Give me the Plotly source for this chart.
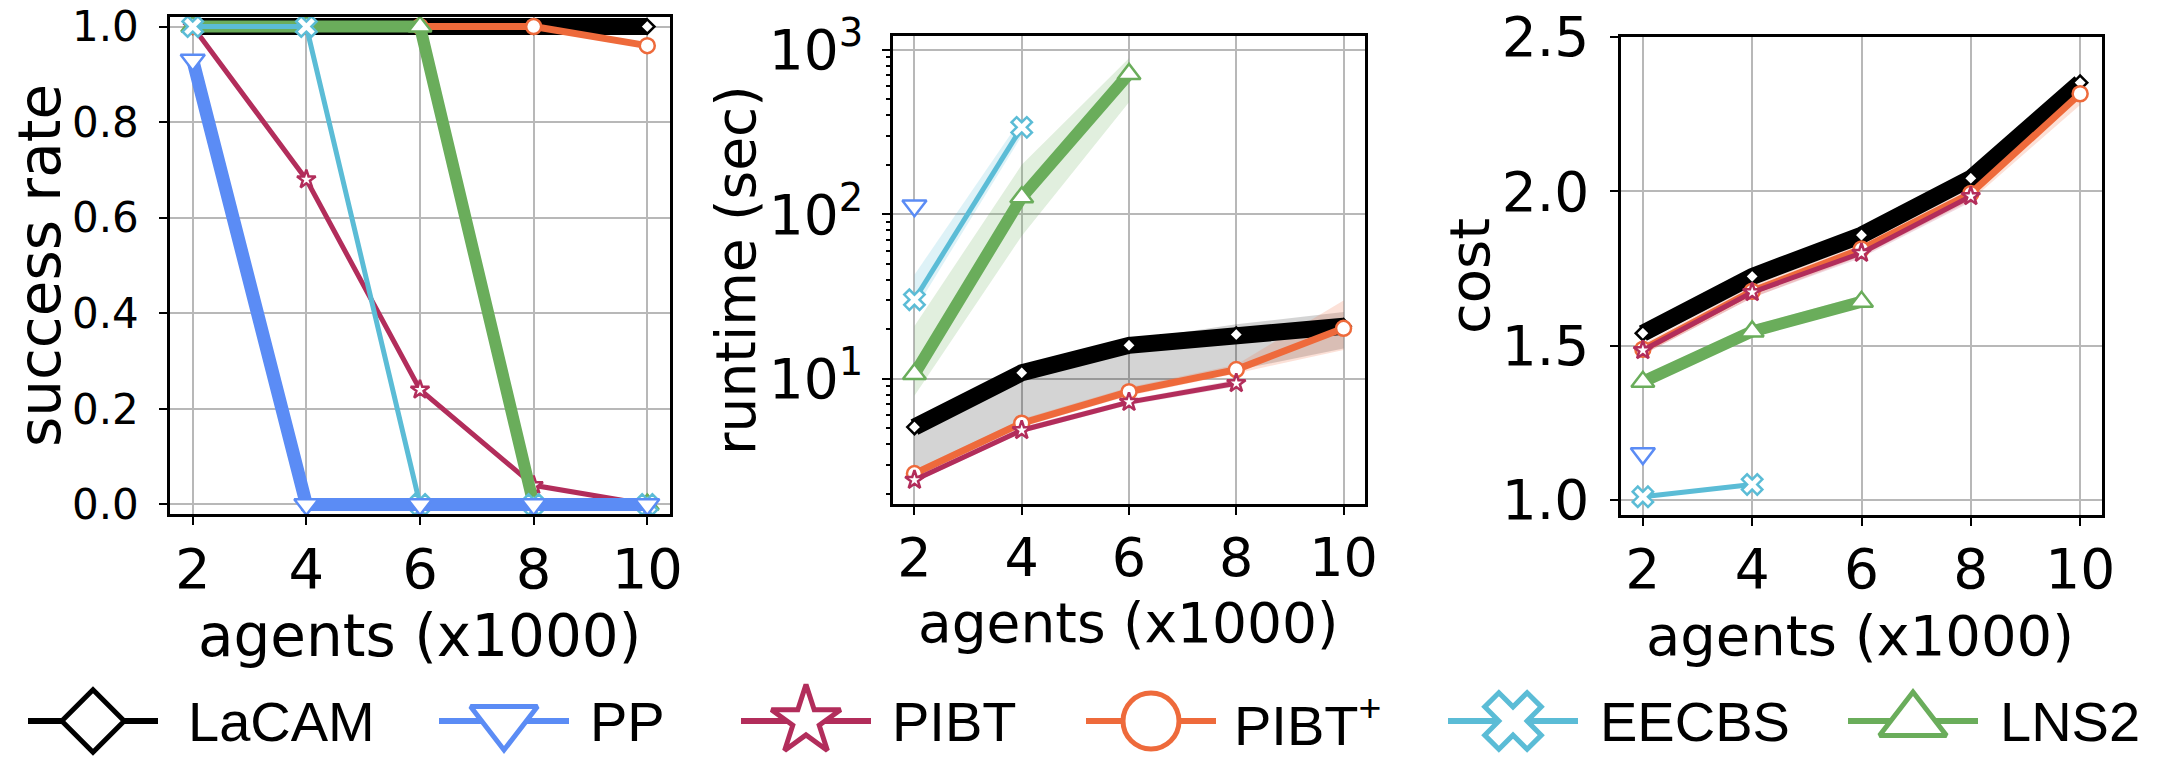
import plotly.graph_objects as go

W, H = 2167, 759

# ---------------- data ----------------
AGENTS = [2, 4, 6, 8, 10]
X_TICKS = [2, 4, 6, 8, 10]
METHODS = ["LaCAM", "PP", "PIBT", "PIBT+", "EECBS", "LNS2"]
LEGEND_LABELS = ["LaCAM", "PP", "PIBT", "PIBT<sup>+</sup>", "EECBS", "LNS2"]

# success rate
SR = {
    "LaCAM": [1.0, 1.0, 1.0, 1.0, 1.0],
    "PP":    [0.93, 0.0, 0.0, 0.0, 0.0],
    "PIBT":  [1.0, 0.68, 0.24, 0.04, 0.0],
    "PIBT+": [1.0, 1.0, 1.0, 1.0, 0.96],
    "EECBS": [1.0, 1.0, 0.0, 0.0, 0.0],
    "LNS2":  [1.0, 1.0, 1.0, 0.0, 0.0],
}

# runtime (sec); None = no solved instance
RT = {
    "LaCAM": [5.1, 10.9, 16.0, 18.6, 20.9],
    "PP":    [113, None, None, None, None],
    "PIBT":  [2.43, 4.88, 7.23, 9.42, None],
    "PIBT+": [2.66, 5.38, 8.37, 11.4, 20.3],
    "EECBS": [30.3, 338, None, None, None],
    "LNS2":  [10.7, 127, 714, None, None],
}
RT_LO = {
    "LaCAM": [2.7, 5.3, 8.4, 11.3, 15.3],
    "PP":    [110, None, None, None, None],
    "PIBT":  [2.35, 4.7, 6.95, 9.0, None],
    "PIBT+": [2.55, 5.1, 7.9, 10.8, 15.0],
    "EECBS": [26.0, 300, None, None, None],
    "LNS2":  [7.9, 74, 480, None, None],
}
RT_HI = {
    "LaCAM": [5.6, 11.6, 17.2, 21.5, 25.5],
    "PP":    [116, None, None, None, None],
    "PIBT":  [2.52, 5.1, 7.5, 9.9, None],
    "PIBT+": [2.8, 5.7, 8.9, 12.2, 30.0],
    "EECBS": [43.0, 385, None, None, None],
    "LNS2":  [21.0, 200, 890, None, None],
}

# cost
CO = {
    "LaCAM": [1.54, 1.724, 1.858, 2.042, 2.352],
    "PP":    [1.15, None, None, None, None],
    "PIBT":  [1.485, 1.673, 1.80, 1.984, None],
    "PIBT+": [1.488, 1.676, 1.813, 1.993, 2.316],
    "EECBS": [1.01, 1.05, None, None, None],
    "LNS2":  [1.383, 1.546, 1.642, None, None],
}
CO_LO = {
    "LaCAM": [1.525, 1.71, 1.845, 2.025, 2.33],
    "PP":    [1.14, None, None, None, None],
    "PIBT":  [1.47, 1.655, 1.785, 1.965, None],
    "PIBT+": [1.47, 1.655, 1.79, 1.97, 2.28],
    "EECBS": [1.005, 1.045, None, None, None],
    "LNS2":  [1.365, 1.53, 1.625, None, None],
}
CO_HI = {
    "LaCAM": [1.555, 1.74, 1.872, 2.058, 2.375],
    "PP":    [1.16, None, None, None, None],
    "PIBT":  [1.50, 1.69, 1.815, 2.0, None],
    "PIBT+": [1.505, 1.695, 1.83, 2.01, 2.345],
    "EECBS": [1.015, 1.055, None, None, None],
    "LNS2":  [1.40, 1.565, 1.662, None, None],
}

# ---------------- styles ----------------
COLORS = {
    "LaCAM": "#000000",
    "PP": "#5b8cf5",
    "PIBT": "#b22d5b",
    "PIBT+": "#ee6a3b",
    "EECBS": "#5bbcd6",
    "LNS2": "#6aad5b",
}
BANDS = {
    "LaCAM": "rgba(0,0,0,0.17)",
    "PP": "rgba(91,140,245,0.18)",
    "PIBT": "rgba(178,45,91,0.18)",
    "PIBT+": "rgba(238,106,59,0.2)",
    "EECBS": "rgba(91,188,214,0.2)",
    "LNS2": "rgba(106,173,91,0.2)",
}
SYMBOLS = {
    "LaCAM": "diamond", "PP": "triangle-down", "PIBT": "star",
    "PIBT+": "circle", "EECBS": "x", "LNS2": "triangle-up",
}
LINE_W = {"LaCAM": 17, "PP": 13, "PIBT": 5, "PIBT+": 7, "EECBS": 5, "LNS2": 12}
MARK_S = {"LaCAM": 11, "PP": 21, "PIBT": 14, "PIBT+": 15, "EECBS": 18, "LNS2": 20}
LEG_MARK_S = {"LaCAM": 48, "PP": 58, "PIBT": 52, "PIBT+": 56, "EECBS": 50, "LNS2": 58}
DRAW_ORDER = ["LaCAM", "PIBT+", "PIBT", "LNS2", "EECBS", "PP"]

FONT = "DejaVu Sans"
GRID = "#b8b8b8"

fig = go.Figure()


def add_band(m, lo, hi, xa, ya):
    pts = [(x, l, h) for x, l, h in zip(AGENTS, lo, hi) if l is not None]
    if len(pts) < 2:
        return
    xs = [p[0] for p in pts] + [p[0] for p in reversed(pts)]
    ys = [p[2] for p in pts] + [p[1] for p in reversed(pts)]
    fig.add_trace(go.Scatter(x=xs, y=ys, fill="toself", mode="lines",
                             line=dict(width=0), fillcolor=BANDS[m],
                             hoverinfo="skip", showlegend=False,
                             xaxis=xa, yaxis=ya))


def add_line(m, ys, xa, ya):
    fig.add_trace(go.Scatter(
        x=AGENTS, y=ys, mode="lines+markers", name=m, showlegend=False,
        line=dict(color=COLORS[m], width=LINE_W[m]),
        marker=dict(symbol=SYMBOLS[m], size=MARK_S[m], color="white",
                    line=dict(color=COLORS[m], width=2.5)),
        cliponaxis=False, xaxis=xa, yaxis=ya))


# panel 1
for m in DRAW_ORDER:
    add_line(m, SR[m], "x", "y")
# panel 2
for m in DRAW_ORDER:
    add_band(m, RT_LO[m], RT_HI[m], "x2", "y2")
for m in DRAW_ORDER:
    add_line(m, RT[m], "x2", "y2")
# panel 3
for m in DRAW_ORDER:
    add_band(m, CO_LO[m], CO_HI[m], "x3", "y3")
for m in DRAW_ORDER:
    add_line(m, CO[m], "x3", "y3")

# ---------------- custom legend (bottom strip) ----------------
LEG_CX = [93, 504, 806, 1151, 1513, 1913]
LEG_TX = [186, 588, 890, 1232, 1598, 1998]
LEG_Y = 721
LEG_HALF = 65
for m, cx in zip(METHODS, LEG_CX):
    fig.add_trace(go.Scatter(x=[cx - LEG_HALF, cx + LEG_HALF], y=[LEG_Y, LEG_Y],
                             mode="lines", line=dict(color=COLORS[m], width=6),
                             showlegend=False, hoverinfo="skip", cliponaxis=False,
                             xaxis="x4", yaxis="y4"))
    fig.add_trace(go.Scatter(x=[cx], y=[LEG_Y], mode="markers",
                             marker=dict(symbol=SYMBOLS[m], size=LEG_MARK_S[m], color="white",
                                         line=dict(color=COLORS[m], width=5)),
                             showlegend=False, hoverinfo="skip", cliponaxis=False,
                             xaxis="x4", yaxis="y4"))
for lab, tx in zip(LEGEND_LABELS, LEG_TX):
    fig.add_annotation(x=tx, y=LEG_Y, xref="x4", yref="y4", text=lab, showarrow=False,
                       xanchor="left", yanchor="middle",
                       font=dict(family="Liberation Sans", size=56, color="black"))


def px_x(p):
    return p / W


def px_y(p):
    return 1 - p / H


common_x = dict(range=[1.6, 10.4], tickvals=X_TICKS, showgrid=True, gridcolor=GRID,
                gridwidth=2, showline=True, mirror=True, linecolor="black", linewidth=2.5,
                ticks="outside", ticklen=8, tickwidth=2, tickcolor="black", zeroline=False,
                automargin=False)
common_y = dict(showgrid=True, gridcolor=GRID, gridwidth=2, showline=True, mirror=True,
                linecolor="black", linewidth=2.5, ticks="outside", ticklen=8, tickwidth=2,
                tickcolor="black", zeroline=False, automargin=False)

fig.update_layout(
    template="none",
    width=W, height=H, autosize=False,
    margin=dict(l=0, r=0, t=0, b=0, pad=0),
    paper_bgcolor="white", plot_bgcolor="rgba(0,0,0,0)",
    font=dict(family=FONT, color="black"),
    showlegend=False,
    xaxis=dict(common_x, domain=[px_x(170), px_x(670)], anchor="y",
               tickfont=dict(size=56), ticklabelstandoff=-4),
    yaxis=dict(common_y, domain=[px_y(514), px_y(17)], anchor="x", range=[-0.02, 1.02],
               tickvals=[0, 0.2, 0.4, 0.6, 0.8, 1.0], tickformat=".1f",
               tickfont=dict(size=42), ticklabelstandoff=12),
    xaxis2=dict(common_x, domain=[px_x(893), px_x(1365)], anchor="y2",
                tickfont=dict(size=54), ticklabelstandoff=-4),
    yaxis2=dict(common_y, domain=[px_y(504), px_y(36)], anchor="x2", type="log",
                range=[0.24, 3.084], tickvals=[10, 100, 1000],
                ticktext=["10<sup>1</sup>", "10<sup>2</sup>", "10<sup>3</sup>"],
                tickfont=dict(size=55), ticklabelstandoff=8,
                minor=dict(ticks="outside", ticklen=4, tickwidth=1.5, tickcolor="black",
                           showgrid=False,
                           tickvals=[m * 10 ** k for k in range(0, 3) for m in range(2, 10)])),
    xaxis3=dict(common_x, domain=[px_x(1621), px_x(2102)], anchor="y3",
                tickfont=dict(size=55), ticklabelstandoff=-4),
    yaxis3=dict(common_y, domain=[px_y(515), px_y(37)], anchor="x3", range=[0.951, 2.5],
                tickvals=[1.0, 1.5, 2.0, 2.5], tickformat=".1f",
                tickfont=dict(size=55), ticklabelstandoff=10),
    xaxis4=dict(domain=[0, 1], range=[0, W], visible=False, fixedrange=True, anchor="y4",
                automargin=False),
    yaxis4=dict(domain=[0, px_y(652)], range=[759, 652], visible=False, fixedrange=True,
                anchor="x4", automargin=False),
)

# axis titles as annotations
TITLES = [
    ("success rate", 40, 266, -90, 58),
    ("runtime (sec)", 736, 270, -90, 55),
    ("cost", 1469, 276, -90, 56),
    ("agents (x1000)", 419, 636, 0, 58),
    ("agents (x1000)", 1128, 623, 0, 55),
    ("agents (x1000)", 1860, 635, 0, 56),
]
for txt, xp, yp, ang, fs in TITLES:
    fig.add_annotation(x=px_x(xp), y=px_y(yp), xref="paper", yref="paper", text=txt,
                       showarrow=False, textangle=ang, xanchor="center", yanchor="middle",
                       font=dict(family=FONT, size=fs, color="black"))

fig.write_html("out.html", config={"displayModeBar": False},
               post_script="document.body.style.margin='0';document.body.style.overflow='hidden';")
